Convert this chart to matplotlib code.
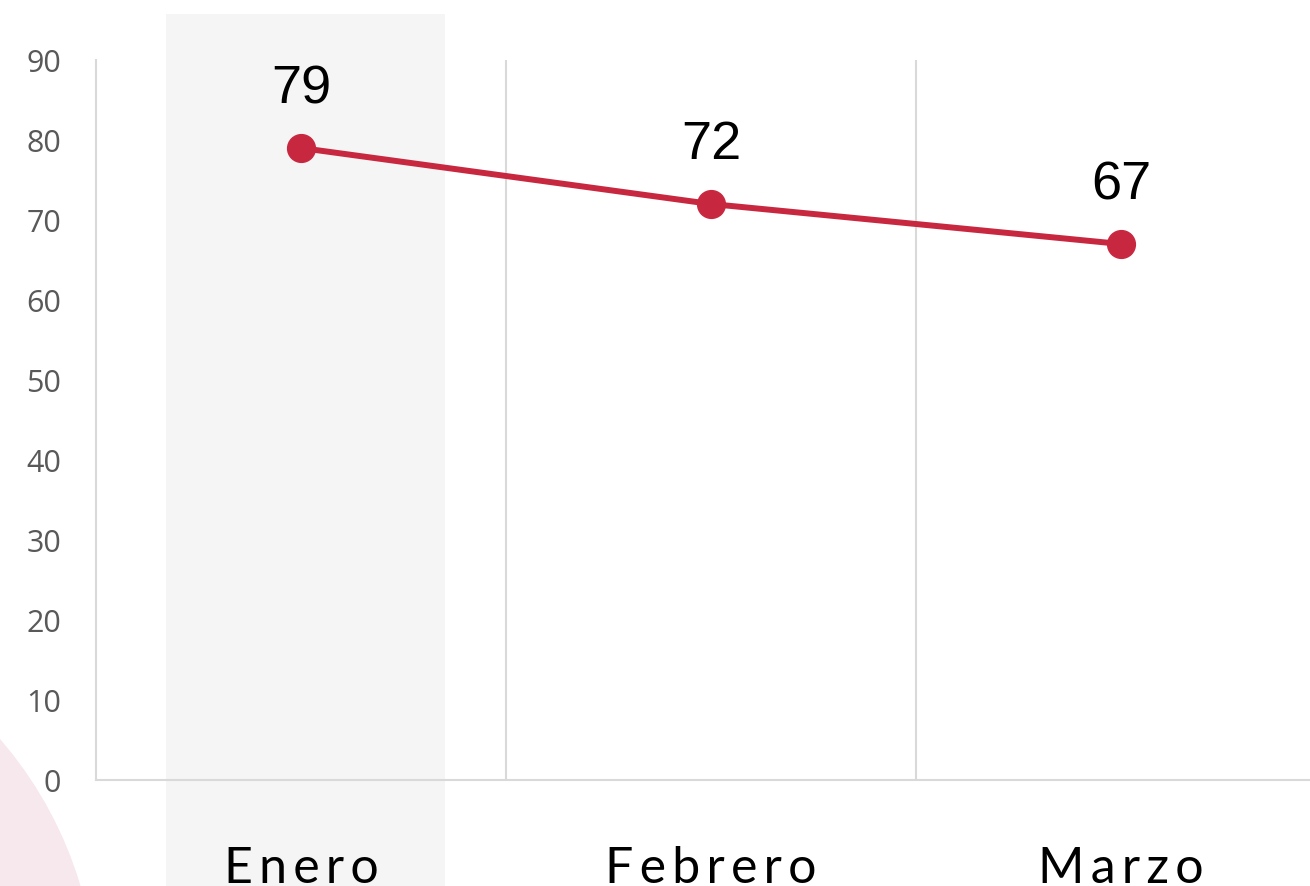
import matplotlib
matplotlib.use("Agg")
import matplotlib.pyplot as plt
import matplotlib.transforms as mtransforms
from matplotlib.patches import Rectangle, Ellipse

# Datos
meses = ["Enero", "Febrero", "Marzo"]
valores = [79, 72, 67]
y_ticks = [0, 10, 20, 30, 40, 50, 60, 70, 80, 90]
destacado = 0  # mes resaltado con la franja gris

ROJO = "#c8283f"
GRIS_GRID = "#d9d9d9"
W, H = 1310, 887

fig = plt.figure(figsize=(W / 100, H / 100), dpi=100)

# Decoración: círculo rosado en la esquina inferior izquierda
r = 397
fig.patches.append(Ellipse((-300 / W, -113 / H), 2 * r / W, 2 * r / H,
                           transform=fig.transFigure, facecolor="#f6e8ec",
                           edgecolor="none", zorder=-2))

ax = fig.add_axes([96 / W, 106 / H, 1230 / W, 720 / H])
ax.set_facecolor("none")

x = list(range(len(meses)))

# Franja gris del mes destacado (de arriba hasta el borde inferior)
trans = mtransforms.blended_transform_factory(ax.transData, fig.transFigure)
fig.patches.append(Rectangle((destacado - 0.33, 0), 0.68, 872 / H,
                             transform=trans, facecolor="#f5f5f5",
                             edgecolor="none", zorder=-1))

ax.plot(x, valores, color=ROJO, linewidth=4.3, marker="o", markersize=20,
        zorder=3, solid_capstyle="round")

for xi, v in zip(x, valores):
    ax.annotate(str(v), (xi, v), xytext=(0, 25), textcoords="offset points",
                ha="center", va="bottom", fontsize=39, color="black",
                family="Liberation Sans")

ax.set_xlim(-0.5, len(meses) - 0.5)
ax.set_ylim(0, 90)
ax.set_yticks(y_ticks)
ax.tick_params(axis="y", length=0, pad=25, labelsize=22, labelcolor="#595959")
for lab in ax.get_yticklabels():
    lab.set_family("Open Sans")
    lab.set_horizontalalignment("right")

# Etiquetas de meses con espaciado entre letras
ax.set_xticks(x)
ax.set_xticklabels(["\u2009".join(m) for m in meses])
ax.tick_params(axis="x", length=0, pad=47, labelsize=36, labelcolor="black")
for lab in ax.get_xticklabels():
    lab.set_family(["Lato", "DejaVu Sans"])

# Separadores verticales entre categorías
for b in [i + 0.5 for i in x[:-1]]:
    ax.axvline(b, color=GRIS_GRID, linewidth=1.5, zorder=1)

for s in ["top", "right"]:
    ax.spines[s].set_visible(False)
ax.spines["left"].set_color(GRIS_GRID)
ax.spines["left"].set_linewidth(1.5)
ax.spines["bottom"].set_color(GRIS_GRID)
ax.spines["bottom"].set_linewidth(1.5)

fig.savefig("out.png", dpi=100)
